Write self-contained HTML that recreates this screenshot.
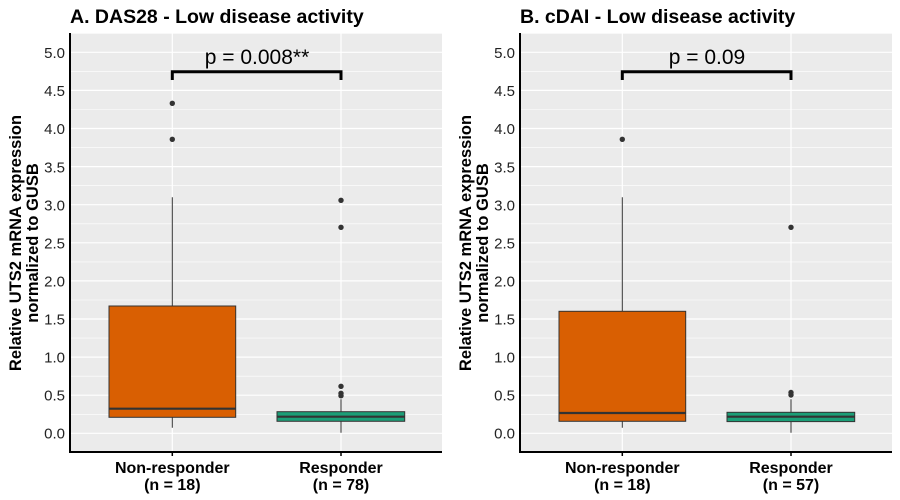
<!DOCTYPE html>
<html><head><meta charset="utf-8"><style>body{margin:0;background:#fff}svg{display:block}</style></head><body>
<svg width="900" height="500" xmlns="http://www.w3.org/2000/svg" font-family="Liberation Sans, Arial, sans-serif">
<defs>
<g id="grid">
<rect x="70" y="33" width="372" height="419" fill="#ebebeb"/>
<g stroke="#fff" stroke-width="0.6">
<line x1="70" x2="442" y1="414.3" y2="414.3"/><line x1="70" x2="442" y1="376.2" y2="376.2"/><line x1="70" x2="442" y1="338.1" y2="338.1"/><line x1="70" x2="442" y1="300" y2="300"/><line x1="70" x2="442" y1="261.9" y2="261.9"/><line x1="70" x2="442" y1="223.8" y2="223.8"/><line x1="70" x2="442" y1="185.7" y2="185.7"/><line x1="70" x2="442" y1="147.6" y2="147.6"/><line x1="70" x2="442" y1="109.5" y2="109.5"/><line x1="70" x2="442" y1="71.4" y2="71.4"/><line x1="70" x2="442" y1="33.3" y2="33.3"/>
</g>
<g stroke="#fff" stroke-width="1.2">
<line x1="70" x2="442" y1="433.3" y2="433.3"/><line x1="70" x2="442" y1="395.2" y2="395.2"/><line x1="70" x2="442" y1="357.1" y2="357.1"/><line x1="70" x2="442" y1="319" y2="319"/><line x1="70" x2="442" y1="280.9" y2="280.9"/><line x1="70" x2="442" y1="242.8" y2="242.8"/><line x1="70" x2="442" y1="204.7" y2="204.7"/><line x1="70" x2="442" y1="166.6" y2="166.6"/><line x1="70" x2="442" y1="128.5" y2="128.5"/><line x1="70" x2="442" y1="90.4" y2="90.4"/><line x1="70" x2="442" y1="52.3" y2="52.3"/>
<line x1="172.3" x2="172.3" y1="33" y2="452"/><line x1="341" x2="341" y1="33" y2="452"/>
</g>
<g stroke="#000" stroke-width="1.5"><polyline points="70,33 70,452 442,452" fill="none" stroke-width="2"/>
<line x1="172.3" x2="172.3" y1="452" y2="456"/><line x1="341" x2="341" y1="452" y2="456"/></g>
<g font-size="15" fill="#222" text-anchor="end">
<text x="65" y="438.5">0.0</text><text x="65" y="400.5">0.5</text><text x="65" y="362.5">1.0</text><text x="65" y="324.5">1.5</text><text x="65" y="286.5">2.0</text><text x="65" y="248.5">2.5</text><text x="65" y="210.5">3.0</text><text x="65" y="172.5">3.5</text><text x="65" y="134">4.0</text><text x="65" y="96">4.5</text><text x="65" y="58">5.0</text>
</g>
<g font-size="16.5" font-weight="bold" fill="#000" text-anchor="middle" transform="translate(0,243) rotate(-90)">
<text x="0" y="21">Relative UTS2 mRNA expression</text><text x="0" y="38">normalized to GUSB</text>
</g>
<g font-size="16" font-weight="bold" fill="#000" text-anchor="middle">
<text x="172.3" y="473">Non-responder</text><text x="172.3" y="490">(n = 18)</text><text x="341" y="473">Responder</text>
</g>
<polyline points="172.3,80 172.3,71.7 341,71.7 341,80" fill="none" stroke="#000" stroke-width="3"/>
<line x1="172.3" x2="172.3" y1="197.3" y2="427.7" stroke="#333" stroke-width="1"/>
<line x1="341" x2="341" y1="399.3" y2="432.7" stroke="#333" stroke-width="1"/>
</g>
</defs>
<use href="#grid"/>
<use href="#grid" transform="translate(450,0)"/>
<text x="70" y="23" font-size="19.5" font-weight="bold">A. DAS28 - Low disease activity</text>
<text x="520" y="23" font-size="19.5" font-weight="bold">B. cDAI - Low disease activity</text>
<g font-size="21" text-anchor="middle" fill="#000"><text x="257" y="64">p = 0.008**</text><text x="707" y="64">p = 0.09</text></g>
<g font-size="16" font-weight="bold" text-anchor="middle"><text x="341" y="490">(n = 78)</text><text x="791" y="490">(n = 57)</text></g>
<!-- A -->
<rect x="109" y="306" width="126.7" height="111.3" fill="#d95f02" stroke="#333" stroke-width="1"/>
<line x1="109" x2="235.7" y1="408.7" y2="408.7" stroke="#333" stroke-width="2.2"/>
<rect x="277" y="411.7" width="127.7" height="9.6" fill="#1b9e77" stroke="#333" stroke-width="1"/>
<line x1="277" x2="404.7" y1="416.7" y2="416.7" stroke="#333" stroke-width="2.2"/>
<g fill="#333"><circle cx="172.3" cy="103.3" r="2.7"/><circle cx="172.3" cy="139.3" r="2.7"/><circle cx="341" cy="200.3" r="2.7"/><circle cx="341" cy="227.3" r="2.7"/><circle cx="341" cy="386.3" r="2.7"/><circle cx="341" cy="393.3" r="2.7"/><circle cx="341" cy="395.7" r="2.7"/></g>
<!-- B -->
<rect x="559" y="311.3" width="126.7" height="110" fill="#d95f02" stroke="#333" stroke-width="1"/>
<line x1="559" x2="685.7" y1="413" y2="413" stroke="#333" stroke-width="2.2"/>
<rect x="727" y="412.3" width="127.7" height="9.3" fill="#1b9e77" stroke="#333" stroke-width="1"/>
<line x1="727" x2="854.7" y1="416.7" y2="416.7" stroke="#333" stroke-width="2.2"/>
<g fill="#333"><circle cx="622.3" cy="139.3" r="2.7"/><circle cx="791" cy="227.3" r="2.7"/><circle cx="791" cy="392.5" r="2.7"/><circle cx="791" cy="395" r="2.7"/></g>
</svg>
</body></html>
